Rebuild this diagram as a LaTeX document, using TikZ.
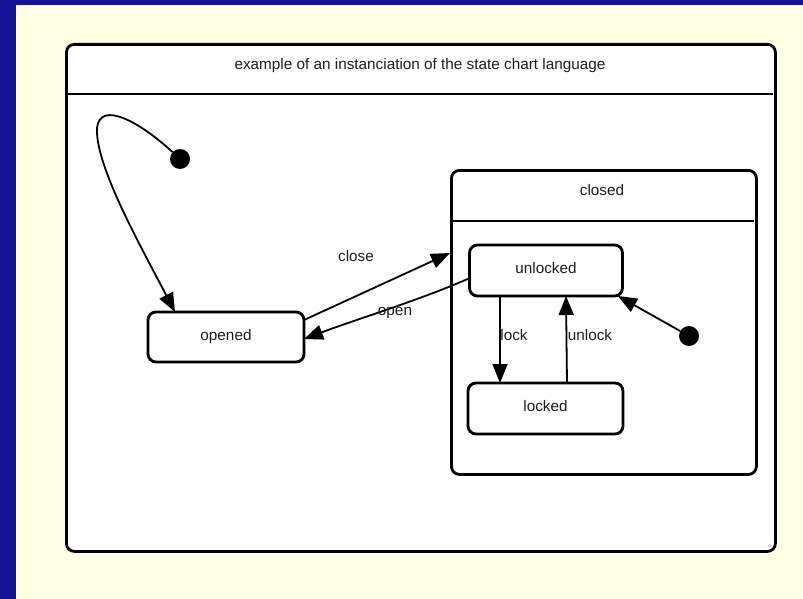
\documentclass[tikz,border=0pt]{standalone}
\usepackage{fontspec}
\setmainfont{Liberation Sans}
\usetikzlibrary{arrows.meta}
\definecolor{bgblue}{RGB}{24,20,150}
\definecolor{panel}{RGB}{255,255,228}
\definecolor{txt}{RGB}{30,30,30}
\tikzset{
  statebox/.style={draw=black, line width=2.8pt, rounded corners=8pt, fill=white, inner sep=0pt, text=txt, font=\fontsize{15.3}{18}\selectfont},
  conn/.style={line width=1.8pt, -{Triangle[length=19pt,width=15pt]}},
  lbl/.style={font=\fontsize{15.3}{18}\selectfont, text=txt, inner sep=0pt},
  initdot/.style={circle, fill=black, inner sep=0pt, minimum size=20pt}
}
\begin{document}
\begin{tikzpicture}[x=1pt,y=-1pt]
\useasboundingbox (0,0) rectangle (803,599);
\fill[bgblue] (0,0) rectangle (803,599);
\fill[panel] (16,5) rectangle (803,599);
% outer box
\node[statebox, anchor=north west, minimum width=709pt, minimum height=507pt] (outer) at (65,43) {};
\draw[line width=2.8pt] (66,94) -- (773,94);
\node[lbl] (title) at (420,66) {example of an instanciation of the state chart language};
% closed composite
\node[statebox, anchor=north west, minimum width=305pt, minimum height=304pt] (closed) at (450,169) {};
\draw[line width=2.8pt] (451,221) -- (754,221);
\node[lbl] (closedt) at (602,190) {closed};
% states
\node[statebox, minimum width=156pt, minimum height=50pt] (opened) at (226,337) {\raisebox{5pt}{opened}};
\node[statebox, minimum width=153pt, minimum height=51pt] (unlocked) at (546,270.5) {\raisebox{5pt}{unlocked}};
\node[statebox, minimum width=155pt, minimum height=51pt] (locked) at (545.5,408.5) {\raisebox{5pt}{locked}};
% initial pseudostates
\node[initdot] (init1) at (180,159) {};
\node[initdot] (init2) at (689,336) {};
% anchor coordinates
\coordinate (oTop) at (175,312);
\coordinate (oR1) at (304,320);
\coordinate (oR2) at (304,339);
\coordinate (cIn) at (450,253);
\coordinate (uL) at (470,278);
\coordinate (uLB) at (500,296);
\coordinate (lTL) at (500,383);
\coordinate (lTU) at (567,383);
\coordinate (uBU) at (566,296);
\coordinate (uBR) at (618,296);
% connectors
\draw[conn] (init1) .. controls (140,122) and (100,100) .. (97,128) .. controls (95,165) and (140,245) .. (oTop);
\draw[conn] (oR1) -- (cIn);
\draw[conn] (uL) .. controls (420,300) and (360,318) .. (oR2);
\draw[conn] (uLB) -- (lTL);
\draw[conn] (lTU) -- (uBU);
\draw[conn] (init2) -- (uBR);
% labels
\node[lbl] (lclose) at (356,256) {close};
\node[lbl] (lopen) at (395,313) {open};
\node[lbl] (llock) at (514,335) {lock};
\node[lbl] (lunlock) at (590,335) {unlock};
\end{tikzpicture}
\end{document}
